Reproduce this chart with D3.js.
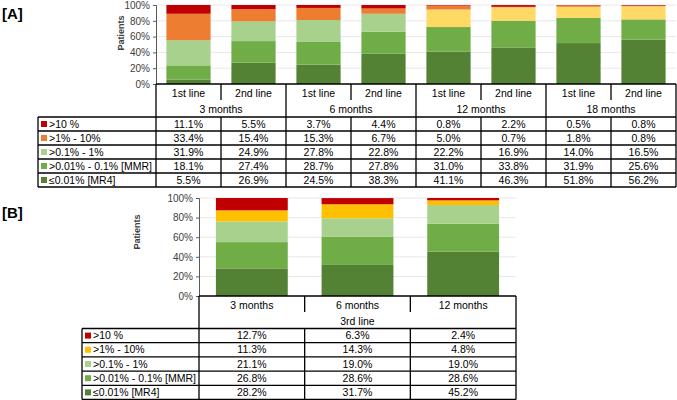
<!DOCTYPE html>
<html>
<head>
<meta charset="utf-8">
<script src="https://cdn.jsdelivr.net/npm/d3@7"></script>
<style>
  body { margin: 0; background: #fff; }
  svg text { font-family: "Liberation Sans", Arial, sans-serif; }
</style>
</head>
<body>
<script>
var width = 677, height = 400

// categories (legend rows, top to bottom)
var categories = [">10 %", ">1% - 10%", ">0.1% - 1%", ">0.01% - 0.1% [MMR]", "\u22640.01% [MR4]"]

// panel A
var groupsA = ["3 months", "6 months", "12 months", "18 months"]
var linesA = ["1st line", "2nd line"]
var aGt10   = [11.1, 5.5, 3.7, 4.4, 0.8, 2.2, 0.5, 0.8]
var a1to10  = [33.4, 15.4, 15.3, 6.7, 5.0, 0.7, 1.8, 0.8]
var a01to1  = [31.9, 24.9, 27.8, 22.8, 22.2, 16.9, 14.0, 16.5]
var aMMR    = [18.1, 27.4, 28.7, 27.8, 31.0, 33.8, 31.9, 25.6]
var aMR4    = [5.5, 26.9, 24.5, 38.3, 41.1, 46.3, 51.8, 56.2]

// panel B
var groupsB = ["3 months", "6 months", "12 months"]
var lineB = "3rd line"
var bGt10  = [12.7, 6.3, 2.4]
var b1to10 = [11.3, 14.3, 4.8]
var b01to1 = [21.1, 19.0, 19.0]
var bMMR   = [26.8, 28.6, 28.6]
var bMR4   = [28.2, 31.7, 45.2]

var yTicks = [0, 20, 40, 60, 80, 100]

var colorsA = ["#C00000", "#ED7D31", "#A9D18E", "#70AD47", "#548235"]
var colorsB = ["#C00000", "#FFC000", "#A9D18E", "#70AD47", "#548235"]
var yellowA = "#FFD966"

var fs = 10.5

var svg = d3.select("body").append("svg")
    .attr("width", width)
    .attr("height", height)

function fmt(v) { return v.toFixed(1) + "%" }

function panel(opt) {
  var n = opt.series[0].length
  var rows = d3.range(n).map(function(i) {
    var r = {i: i}
    opt.series.forEach(function(s, k) { r[k] = s[i] })
    return r
  })
  // stack bottom-up: MR4 first
  var keys = [4, 3, 2, 1, 0]
  var stacked = d3.stack().keys(keys)(rows)

  var x = d3.scaleBand().domain(d3.range(n)).range([opt.x0, opt.x1]).paddingInner(0.32).paddingOuter(0.16)
  var y = d3.scaleLinear().domain([0, 100]).range([opt.yBottom, opt.yTop])

  var g = svg.append("g")

  // gridlines
  g.selectAll(".grid").data(yTicks.slice(1)).enter().append("line")
    .attr("x1", opt.x0).attr("x2", opt.x1)
    .attr("y1", function(d) { return y(d) }).attr("y2", function(d) { return y(d) })
    .attr("stroke", "#e8e8e8").attr("stroke-width", 1)

  // bars
  g.selectAll(".layer").data(stacked).enter().append("g")
    .each(function(layer) {
      d3.select(this).selectAll("rect").data(layer).enter().append("rect")
        .attr("x", function(d) { return x(d.data.i) })
        .attr("width", x.bandwidth())
        .attr("y", function(d) { return y(Math.min(100, d[1])) })
        .attr("height", function(d) { return Math.max(0, y(d[0]) - y(Math.min(100, d[1]))) })
        .attr("fill", function(d) { return opt.color(layer.key, d.data.i) })
    })

  // y axis
  var ax = g.append("g").attr("transform", "translate(" + opt.x0 + ",0)")
    .call(d3.axisLeft(y).tickValues(yTicks).tickFormat(function(d) { return d + "%" }).tickSize(3))
  ax.select(".domain").attr("stroke", "#595959")
  ax.selectAll(".tick line").attr("stroke", "#595959")
  ax.selectAll("text").attr("font-size", 10).attr("fill", "#404040").attr("font-family", null)

  g.append("text")
    .attr("transform", "translate(" + opt.labelX + "," + opt.labelY + ") rotate(-90)")
    .attr("text-anchor", "middle")
    .attr("font-size", 9).attr("font-weight", "bold").attr("fill", "#404040")
    .text("Patients")

  // table
  var step = x.step()
  var lineW = 1.3
  function ln(x1, y1, x2, y2) {
    g.append("line").attr("x1", x1).attr("y1", y1).attr("x2", x2).attr("y2", y2)
      .attr("stroke", "#000").attr("stroke-width", lineW)
  }
  var hTop = opt.yBottom, hBot = opt.headerBottom
  var rowH = opt.rowH
  var tBot = hBot + rowH * categories.length

  // axis baseline / header top
  ln(opt.x0, hTop, opt.x1, hTop)
  ln(opt.x0, hTop, opt.x0, tBot)
  ln(opt.x1, hTop, opt.x1, tBot)
  ln(opt.tableLeft, hBot, opt.x1, hBot)
  ln(opt.tableLeft, hBot, opt.tableLeft, tBot)
  categories.forEach(function(c, k) {
    ln(opt.tableLeft, hBot + rowH * (k + 1), opt.x1, hBot + rowH * (k + 1))
  })
  // column separators in body
  for (var i = 1; i < n; i++) ln(opt.x0 + step * i, hBot, opt.x0 + step * i, tBot)

  opt.header(g, x, step, ln, hTop, hBot)

  // row labels
  categories.forEach(function(c, k) {
    var cy = hBot + rowH * k + rowH / 2
    g.append("rect").attr("x", opt.tableLeft + 3).attr("y", cy - 3).attr("width", 6).attr("height", 6)
      .attr("fill", opt.legendColors[k])
    g.append("text").attr("x", opt.tableLeft + 11).attr("y", cy).attr("dy", "0.35em")
      .attr("font-size", fs).attr("fill", "#000").text(c)
    opt.series[k].forEach(function(v, i) {
      g.append("text").attr("x", x(i) + x.bandwidth() / 2).attr("y", cy).attr("dy", "0.35em")
        .attr("text-anchor", "middle").attr("font-size", fs).attr("fill", "#000").text(fmt(v))
    })
  })
}

// Panel A
svg.append("text").attr("x", 2).attr("y", 19).attr("font-size", 15).attr("font-weight", "bold").text("[A]")
panel({
  series: [aGt10, a1to10, a01to1, aMMR, aMR4],
  x0: 156, x1: 676, yTop: 5, yBottom: 84,
  headerBottom: 117, rowH: 14, tableLeft: 38,
  labelX: 124, labelY: 33,
  legendColors: colorsA,
  color: function(k, i) { return (k === 2 && i >= 4) ? yellowA : colorsA[k] },
  header: function(g, x, step, ln, hTop, hBot) {
    for (var i = 0; i < 8; i++) {
      if (i % 2 === 1) ln(156 + step * i, hTop, 156 + step * i, hTop + 16)
      else if (i > 0) ln(156 + step * i, hTop, 156 + step * i, hBot)
      g.append("text").attr("x", x(i) + x.bandwidth() / 2).attr("y", hTop + 9).attr("dy", "0.35em")
        .attr("text-anchor", "middle").attr("font-size", fs).text(linesA[i % 2])
    }
    groupsA.forEach(function(gr, j) {
      g.append("text").attr("x", 156 + step * (2 * j + 1)).attr("y", hTop + 25).attr("dy", "0.35em")
        .attr("text-anchor", "middle").attr("font-size", fs).text(gr)
    })
  }
})

// Panel B
svg.append("text").attr("x", 2).attr("y", 218).attr("font-size", 15).attr("font-weight", "bold").text("[B]")
panel({
  series: [bGt10, b1to10, b01to1, bMMR, bMR4],
  x0: 199, x1: 516, yTop: 198, yBottom: 296,
  headerBottom: 328.5, rowH: 14.2, tableLeft: 82,
  labelX: 140, labelY: 232,
  legendColors: colorsB,
  color: function(k, i) { return colorsB[k] },
  header: function(g, x, step, ln, hTop, hBot) {
    for (var i = 0; i < 3; i++) {
      if (i > 0) ln(199 + step * i, hTop, 199 + step * i, hTop + 16)
      g.append("text").attr("x", x(i) + x.bandwidth() / 2).attr("y", hTop + 9).attr("dy", "0.35em")
        .attr("text-anchor", "middle").attr("font-size", fs).text(groupsB[i])
    }
    g.append("text").attr("x", 199 + step * 1.5).attr("y", hTop + 25).attr("dy", "0.35em")
      .attr("text-anchor", "middle").attr("font-size", fs).text(lineB)
  }
})
</script>
</body>
</html>
